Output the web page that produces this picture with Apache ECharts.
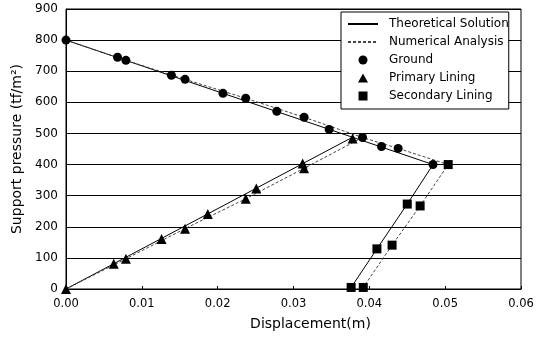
<!DOCTYPE html>
<html>
<head>
<meta charset="utf-8">
<script src="https://cdn.jsdelivr.net/npm/echarts@6/dist/echarts.min.js"></script>
<style>
  html, body { margin: 0; padding: 0; background: #fff; }
  #chart { width: 540px; height: 337px; }
</style>
</head>
<body>
<div id="chart"></div>
<script>
// [displacement (m), support pressure (tf/m2)]
const theoryGroundSecondary = [[0, 800], [0.0484, 400], [0.0450, 273], [0.0410, 129], [0.0376, 5]];
const theoryPrimary = [[0, 0], [0.0378, 488]];
const numericGroundSecondary = [[0, 800], [0.0079, 735], [0.0157, 674], [0.0237, 613], [0.0314, 552],
  [0.0391, 487], [0.0438, 452], [0.0504, 400], [0.0467, 267], [0.0430, 141], [0.0392, 5]];
const numericPrimary = [[0, 0], [0.0079, 97], [0.0157, 194], [0.0237, 290], [0.0314, 388], [0.0391, 487]];

const groundPts = [[0, 800], [0.0068, 745], [0.0079, 735], [0.0139, 687], [0.0157, 674], [0.0207, 629],
  [0.0237, 613], [0.0278, 571], [0.0314, 552], [0.0347, 513], [0.0391, 487], [0.0416, 458],
  [0.0438, 452], [0.0484, 400]];
const primaryPts = [[0, 0], [0.0063, 81], [0.0079, 97], [0.0126, 161], [0.0157, 194], [0.0187, 241],
  [0.0237, 290], [0.0251, 323], [0.0312, 403], [0.0314, 388], [0.0378, 484]];
const secondaryPts = [[0.0376, 5], [0.0392, 5], [0.0410, 129], [0.0430, 141], [0.0450, 273],
  [0.0467, 267], [0.0504, 400]];

const font = 'DejaVu Sans';
const chart = echarts.init(document.getElementById('chart'));

const solid = { color: '#000', width: 1, type: 'solid' };
const dashed = { color: '#444', width: 1, type: [3, 2] };

// small icons so the markers stay square inside the 30px legend slot
const triIcon = 'path://M5,0L10,9L0,9Z';
const boxIcon = 'path://M0,0L8,0L8,8L0,8Z';
// line entries: keep the line sample, hide the marker
const noMarker = { color: 'transparent', borderColor: 'transparent', borderWidth: 0, opacity: 0 };

chart.setOption({
  animation: false,
  backgroundColor: '#fff',
  textStyle: { fontFamily: font, color: '#000' },
  grid: {
    left: 66, right: 19, top: 9, bottom: 48,
    show: true, borderColor: '#000', borderWidth: 1, backgroundColor: 'transparent'
  },
  legend: {
    data: [
      { name: 'Theoretical Solution', itemStyle: noMarker },
      { name: 'Numerical Analysis', itemStyle: noMarker },
      { name: 'Ground', icon: 'circle' },
      { name: 'Primary Lining', icon: triIcon },
      { name: 'Secondary Lining', icon: boxIcon }
    ],
    orient: 'vertical',
    left: 341, top: 12,
    padding: [6, 0, 7, 6],
    itemGap: 6,
    itemWidth: 30,
    itemHeight: 9,
    symbolKeepAspect: true,
    backgroundColor: '#fff',
    borderColor: '#000',
    borderWidth: 1,
    borderRadius: 0,
    textStyle: { fontFamily: font, fontSize: 12, color: '#000', padding: [0, 0, 0, 6] }
  },
  xAxis: {
    type: 'value', min: 0, max: 0.06, interval: 0.01,
    name: 'Displacement(m)', nameLocation: 'middle', nameGap: 28,
    nameTextStyle: { fontFamily: font, fontSize: 14, color: '#000', padding: [0, 0, 0, 34] },
    axisLine: { lineStyle: { color: '#000', width: 1 } },
    axisTick: { show: true, inside: true, length: 3, lineStyle: { color: '#000' } },
    axisLabel: { fontFamily: font, fontSize: 11.5, color: '#000', margin: 9,
      formatter: v => v.toFixed(2) },
    splitLine: { show: false }
  },
  yAxis: {
    type: 'value', min: 0, max: 900, interval: 100,
    name: 'Support pressure (tf/m²)', nameLocation: 'middle', nameGap: 30,
    nameTextStyle: { fontFamily: font, fontSize: 14, color: '#000' },
    axisLine: { show: true, lineStyle: { color: '#000', width: 1 } },
    axisTick: { show: false },
    axisLabel: { fontFamily: font, fontSize: 12, color: '#000', margin: 8 },
    splitLine: { show: true, lineStyle: { color: '#000', width: 1 } }
  },
  series: [
    { name: 'Theoretical Solution', type: 'line', data: theoryGroundSecondary, symbol: 'none',
      lineStyle: solid, itemStyle: { color: '#000' }, z: 3 },
    { name: 'Theoretical Solution', type: 'line', data: theoryPrimary, symbol: 'none',
      lineStyle: solid, itemStyle: { color: '#000' }, z: 3 },
    { name: 'Numerical Analysis', type: 'line', data: numericGroundSecondary, symbol: 'none',
      lineStyle: dashed, itemStyle: { color: '#444' }, z: 3 },
    { name: 'Numerical Analysis', type: 'line', data: numericPrimary, symbol: 'none',
      lineStyle: dashed, itemStyle: { color: '#444' }, z: 3 },
    { name: 'Ground', type: 'scatter', data: groundPts, symbol: 'circle', symbolSize: 9,
      itemStyle: { color: '#000', opacity: 1 }, z: 5 },
    { name: 'Primary Lining', type: 'scatter', data: primaryPts, symbol: 'triangle', symbolSize: 10,
      itemStyle: { color: '#000', opacity: 1 }, z: 5 },
    { name: 'Secondary Lining', type: 'scatter', data: secondaryPts, symbol: 'rect', symbolSize: 9,
      itemStyle: { color: '#000', opacity: 1 }, z: 5 }
  ]
});
</script>
</body>
</html>
